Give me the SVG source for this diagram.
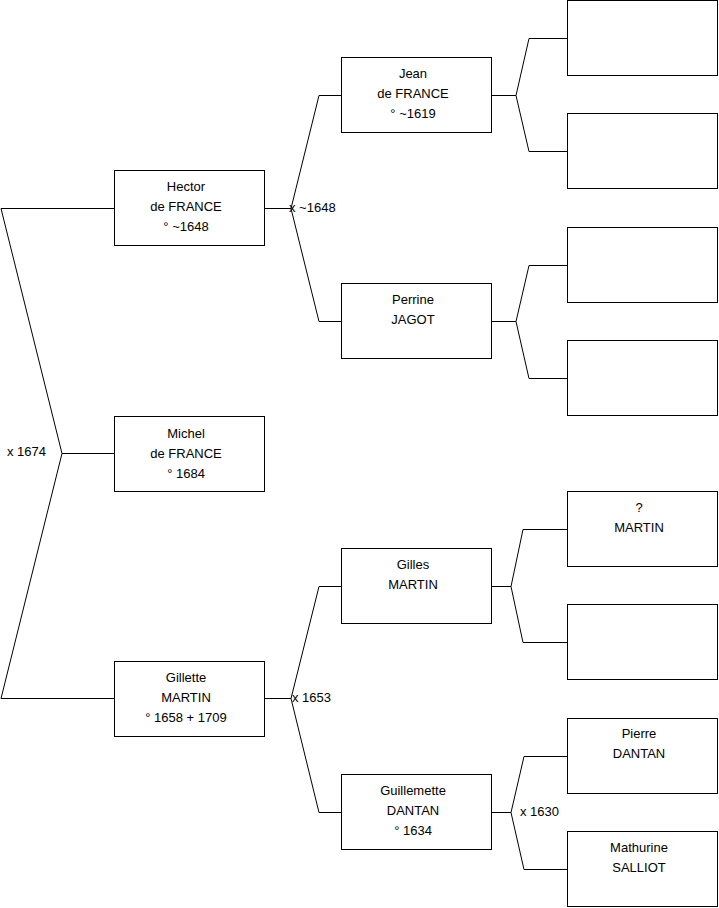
<svg xmlns="http://www.w3.org/2000/svg" width="719" height="908" viewBox="0 0 719 908">
<style>
.box{fill:#fff;stroke:#000;stroke-width:1}
.ln{fill:none;stroke:#000;stroke-width:1}
text{font-family:"Liberation Sans",Arial,sans-serif;font-size:13px;fill:#000}
.c{text-anchor:middle}
</style>
<rect width="719" height="908" fill="#fff"/>
<g id="connectors">
<polyline class="ln" points="114,208.5 1,208.5 62,453.5 1,698.5 114,698.5"/>
<line class="ln" x1="62" y1="453.5" x2="114" y2="453.5"/>
<polyline class="ln" points="341,95.5 319,95.5 291,208.5 319,321.5 341,321.5"/>
<line class="ln" x1="265" y1="208.5" x2="291" y2="208.5"/>
<polyline class="ln" points="341,586.5 319,586.5 291,698.5 319,812.5 341,812.5"/>
<line class="ln" x1="265" y1="698.5" x2="291" y2="698.5"/>
<polyline class="ln" points="567,38.5 529,38.5 516,95.5 529,151.5 567,151.5"/>
<line class="ln" x1="492" y1="95.5" x2="516" y2="95.5"/>
<polyline class="ln" points="567,265.5 529,265.5 516,321.5 529,378.5 567,378.5"/>
<line class="ln" x1="492" y1="321.5" x2="516" y2="321.5"/>
<polyline class="ln" points="567,529.5 523,529.5 511,586.5 523,642.5 567,642.5"/>
<line class="ln" x1="492" y1="586.5" x2="511" y2="586.5"/>
<polyline class="ln" points="567,756.5 524,756.5 511,812.5 524,869.5 567,869.5"/>
<line class="ln" x1="492" y1="812.5" x2="511" y2="812.5"/>
<text x="7" y="456">x 1674</text>
<text x="289" y="212">x ~1648</text>
<text x="292" y="702">x 1653</text>
<text x="520" y="816">x 1630</text>
</g>
<g id="hector"><rect class="box" x="114.5" y="170.5" width="150" height="75"/>
<text class="c" x="186" y="191">Hector</text><text class="c" x="186" y="211">de FRANCE</text><text class="c" x="186" y="231">° ~1648</text></g>
<g id="michel"><rect class="box" x="114.5" y="416.5" width="150" height="75"/>
<text class="c" x="186" y="438">Michel</text><text class="c" x="186" y="458">de FRANCE</text><text class="c" x="186" y="478">° 1684</text></g>
<g id="gillette"><rect class="box" x="114.5" y="661.5" width="150" height="75"/>
<text class="c" x="186" y="682">Gillette</text><text class="c" x="186" y="702">MARTIN</text><text class="c" x="186" y="722">° 1658 + 1709</text></g>
<g id="jean"><rect class="box" x="341.5" y="57.5" width="150" height="75"/>
<text class="c" x="413" y="78">Jean</text><text class="c" x="413" y="98">de FRANCE</text><text class="c" x="413" y="118">° ~1619</text></g>
<g id="perrine"><rect class="box" x="341.5" y="283.5" width="150" height="75"/>
<text class="c" x="413" y="304">Perrine</text><text class="c" x="413" y="324">JAGOT</text></g>
<g id="gilles"><rect class="box" x="341.5" y="548.5" width="150" height="75"/>
<text class="c" x="413" y="569">Gilles</text><text class="c" x="413" y="589">MARTIN</text></g>
<g id="guillemette"><rect class="box" x="341.5" y="774.5" width="150" height="75"/>
<text class="c" x="413" y="795">Guillemette</text><text class="c" x="413" y="815">DANTAN</text><text class="c" x="413" y="835">° 1634</text></g>
<g id="r1"><rect class="box" x="567.5" y="0.5" width="150" height="75"/></g>
<g id="r2"><rect class="box" x="567.5" y="113.5" width="150" height="75"/></g>
<g id="r3"><rect class="box" x="567.5" y="227.5" width="150" height="75"/></g>
<g id="r4"><rect class="box" x="567.5" y="340.5" width="150" height="75"/></g>
<g id="r5"><rect class="box" x="567.5" y="491.5" width="150" height="75"/>
<text class="c" x="639" y="512">?</text><text class="c" x="639" y="532">MARTIN</text></g>
<g id="r6"><rect class="box" x="567.5" y="604.5" width="150" height="75"/></g>
<g id="r7"><rect class="box" x="567.5" y="718.5" width="150" height="75"/>
<text class="c" x="639" y="738">Pierre</text><text class="c" x="639" y="758">DANTAN</text></g>
<g id="r8"><rect class="box" x="567.5" y="831.5" width="150" height="75"/>
<text class="c" x="639" y="852">Mathurine</text><text class="c" x="639" y="872">SALLIOT</text></g>
</svg>
